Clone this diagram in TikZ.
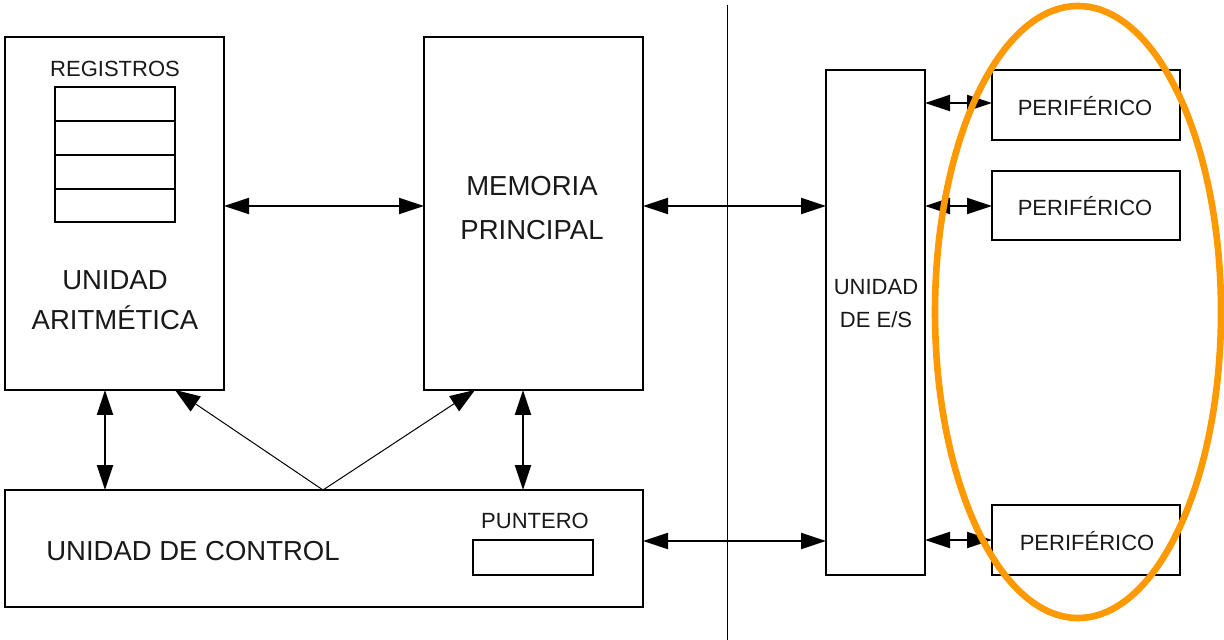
\documentclass[tikz,border=0pt]{standalone}
\usepackage{fontspec}
\setmainfont{Liberation Sans}
\usetikzlibrary{arrows.meta}
\definecolor{orng}{RGB}{255,153,0}
\begin{document}
\begin{tikzpicture}[x=0.5pt,y=-0.5pt,
  blk/.style={draw=black, line width=1pt, fill=white, outer sep=0pt},
  big/.style={font=\fontsize{13.75}{22}\selectfont, align=center, text=black!90},
  sml/.style={font=\fontsize{11}{16.5}\selectfont, align=center, text=black!90},
  dbl/.style={line width=1pt, {Triangle[length=12.5pt,width=8pt]}-{Triangle[length=12.5pt,width=8pt]}},
  thin/.style={line width=0.5pt, -{Triangle[length=12.5pt,width=9pt]}}]
\useasboundingbox (0,0) rectangle (1224,640);
\fill[white] (0,0) rectangle (1224,640);
% separator
\draw[line width=0.5pt] (727,5) -- (727,640);
% boxes
\node[blk, minimum width=219pt*0.5, minimum height=353pt*0.5, anchor=north west] (alu) at (5,37) {};
\node[blk, minimum width=219pt*0.5, minimum height=353pt*0.5, anchor=north west] (mem) at (424,37) {};
\node[blk, minimum width=638pt*0.5, minimum height=117pt*0.5, anchor=north west] (cu) at (5,490) {};
\node[blk, minimum width=99pt*0.5, minimum height=505pt*0.5, anchor=north west] (es) at (826,70) {};
\node[blk, minimum width=188pt*0.5, minimum height=70pt*0.5, anchor=north west] (p1) at (992,70) {};
\node[blk, minimum width=188pt*0.5, minimum height=69pt*0.5, anchor=north west] (p2) at (992,171) {};
\node[blk, minimum width=188pt*0.5, minimum height=70pt*0.5, anchor=north west] (p3) at (992,505) {};
% registers
\node[sml] (regl) at (115,69) {REGISTROS};
\node[blk, minimum width=120pt*0.5, minimum height=34pt*0.5, anchor=north west] (r1) at (55,87) {};
\node[blk, minimum width=120pt*0.5, minimum height=34pt*0.5, anchor=north west] (r2) at (55,121) {};
\node[blk, minimum width=120pt*0.5, minimum height=34pt*0.5, anchor=north west] (r3) at (55,155) {};
\node[blk, minimum width=120pt*0.5, minimum height=33pt*0.5, anchor=north west] (r4) at (55,189) {};
% pointer
\node[sml] (punl) at (535,521) {PUNTERO};
\node[blk, minimum width=120pt*0.5, minimum height=35pt*0.5, anchor=north west] (pun) at (473,540) {};
% texts
\node[big, font=\fontsize{13.75}{20}\selectfont] (alut) at (115,300) {UNIDAD\\ARITMÉTICA};
\node[big] (memt) at (532,208) {MEMORIA\\PRINCIPAL};
\node[big] (cut) at (193,551) {UNIDAD DE CONTROL};
\node[sml] (est) at (876,304) {UNIDAD\\DE E/S};
\node[sml] (p1t) at (1085,106) {PERIFÉRICO};
\node[sml] (p2t) at (1085,206) {PERIFÉRICO};
\node[sml] (p3t) at (1087,541) {PERIFÉRICO};
% connectors
\draw[dbl] (alu.east |- 0,206) -- (mem.west |- 0,206);
\draw[dbl] (mem.east |- 0,206) -- (es.west |- 0,206);
\draw[dbl] (cu.east |- 0,541) -- (es.west |- 0,541);
\draw[dbl] (alu.south -| 105,0) -- (cu.north -| 105,0);
\draw[dbl] (mem.south -| 523,0) -- (cu.north -| 523,0);
\coordinate (split) at (323,490);
\draw[thin] (split) -- (alu.south -| 175,0);
\draw[thin] (split) -- (mem.south -| 475,0);
\draw[dbl] (es.east |- 0,103) -- (p1.west |- 0,103);
\draw[dbl] (es.east |- 0,206) -- (p2.west |- 0,206);
\draw[dbl] (es.east |- 0,540) -- (p3.west |- 0,540);
% highlight
\draw[orng, line width=3.3pt] (1078,312) ellipse [x radius=143, y radius=306];
\end{tikzpicture}
\end{document}
